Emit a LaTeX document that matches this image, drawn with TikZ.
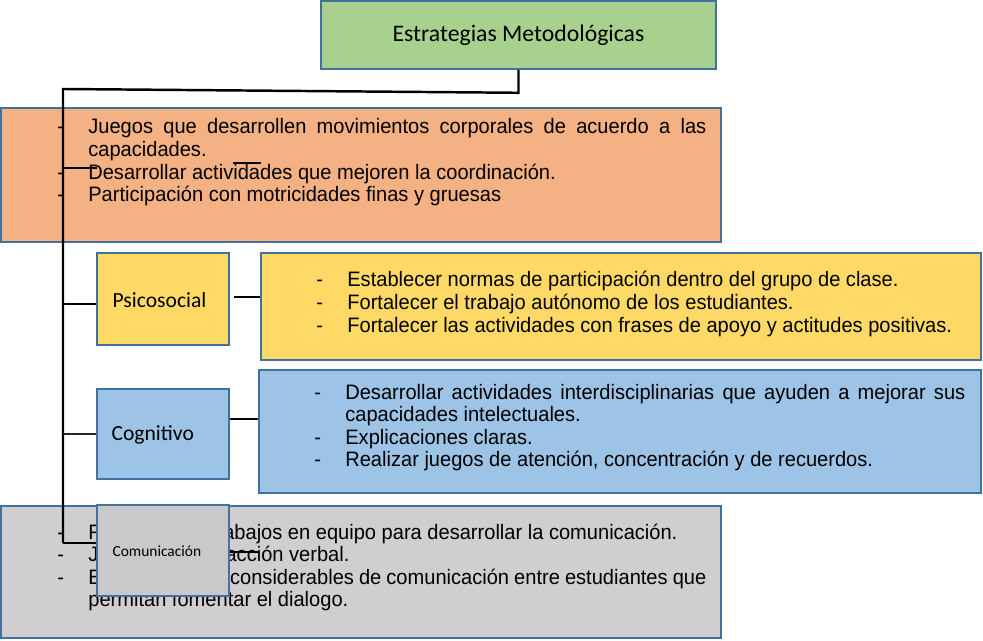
\documentclass[tikz,border=0pt]{standalone}
\usepackage{fontspec}
\setmainfont{Liberation Sans}
\newfontfamily\arial[FakeStretch=0.96]{Liberation Sans}
\newfontfamily\calibri{Carlito}
\usetikzlibrary{fit,calc,positioning}
\usepackage{xcolor}

\definecolor{verde}{HTML}{A9D18E}
\definecolor{naranja}{HTML}{F4B183}
\definecolor{amarillo}{HTML}{FFD966}
\definecolor{celeste}{HTML}{9DC3E6}
\definecolor{gris}{HTML}{D0CECE}
\definecolor{grisclaro}{HTML}{C9C9C9}
\definecolor{borde}{HTML}{41719C}

\newlength{\px}
\setlength{\px}{0.02cm}
\newcommand{\guion}[1]{\noindent\hyphenpenalty=10000\relax\hangindent=31\px\hangafter=1\relax\makebox[31\px][l]{-}#1\par}

\begin{document}
\begin{tikzpicture}[x=0.02cm,y=-0.02cm,
    caja/.style={draw=borde,line width=0.9pt,inner sep=0pt},
    lista/.style={anchor=base west,inner sep=0pt,align=justify,
        font=\arial\fontsize{11.9pt}{12.9pt}\selectfont},
    etiqueta/.style={anchor=west,inner sep=0pt,font=\calibri\fontsize{12.3pt}{14pt}\selectfont},
    conector/.style={line width=1.4pt,black}]

    \useasboundingbox (0,0) rectangle (983,641);

    %cajas

    \node [caja,fill=verde,fit={(321,1) (716,69)}] (titulo) {};
    \node [inner sep=0pt,font=\calibri\fontsize{13.5pt}{16pt}\selectfont] (ttitulo) at (titulo.center) {Estrategias Metodológicas};

        \node [caja,fill=naranja,fit={(1,108) (721,242)}] (motriz) {};
        \node [lista,text width=649\px] (tmotriz) at (57,134) {\guion{Juegos que desarrollen movimientos corporales de acuerdo a las capacidades.}
            \guion{Desarrollar actividades que mejoren la coordinación.}
            \guion{Participación con motricidades finas y gruesas}};

        \node [caja,fill=amarillo,fit={(97,253) (229,345)}] (psico) {};
        \node [etiqueta] (tpsico) at ($(psico.west)+(16,1)$) {Psicosocial};
        \node [caja,fill=amarillo,fit={(261,253) (981,360)}] (normas) {};
        \node [lista,text width=650\px] (tnormas) at (316,287) {\guion{Establecer normas de participación dentro del grupo de clase.}
            \guion{Fortalecer el trabajo autónomo de los estudiantes.}
            \guion{Fortalecer las actividades con frases de apoyo y actitudes positivas.}};

        \node [caja,fill=celeste,fit={(97,389) (229,479)}] (cogni) {};
        \node [etiqueta] (tcogni) at ($(cogni.west)+(15,1)$) {Cognitivo};
        \node [caja,fill=celeste,fit={(259,370) (981,493)}] (intelecto) {};
        \node [lista,text width=651\px] (tintelecto) at (314,399) {\guion{Desarrollar actividades interdisciplinarias que ayuden a mejorar sus capacidades intelectuales.}
            \guion{Explicaciones claras.}
            \guion{Realizar juegos de atención, concentración y de recuerdos.}};

        \node [caja,fill=gris,fit={(1,506) (721,638)}] (dialogo) {};
        \node [lista,text width=649\px] (tdialogo) at (57,539) {\guion{Fomentar los trabajos en equipo para desarrollar la comunicación.}
            \guion{Juegos de interacción verbal.}
            \guion{Establecer vías considerables de comunicación entre estudiantes que permitan fomentar el dialogo.}};

    %conectores

        \coordinate (tronco) at (63,89);
        \coordinate (fin) at (63,543);
        \draw [conector] (titulo.south) -- ++(0,23) -- (tronco) -- (fin);

        \coordinate (ramal) at (97,168);
        \draw [conector] (tronco |- ramal) -- (ramal);
        \coordinate (marcai) at (233,163);
        \coordinate (marcaf) at (261,163);
        \draw [conector] (marcai) -- (marcaf);

        \draw [conector] ($(tronco |- psico.west)+(0,5)$) -- ($(psico.west)+(0,5)$);
        \draw [conector] ($(psico.east)+(4,-2)$) -- (normas.west |- {$(psico.east)+(4,-2)$});

        \draw [conector,black!85] (tronco |- cogni.west) -- (cogni.west);
        \draw [conector] ($(cogni.east)+(0,-15)$) -- (intelecto.west |- {$(cogni.east)+(0,-15)$});

        \node [caja,fill=grisclaro,fit={(97,505) (229,596)}] (comu) {};
        \node [anchor=west,inner sep=0pt,font=\calibri\fontsize{8.8pt}{10pt}\selectfont] (tcomu) at ($(comu.west)+(16,1)$) {Comunicación};
        \draw [conector] (fin) -- (comu.west |- fin);
        \coordinate (marcbi) at (230,552);
        \coordinate (marcbf) at (258,552);
        \draw [conector] (marcbi) -- (marcbf);
\end{tikzpicture}
\end{document}
